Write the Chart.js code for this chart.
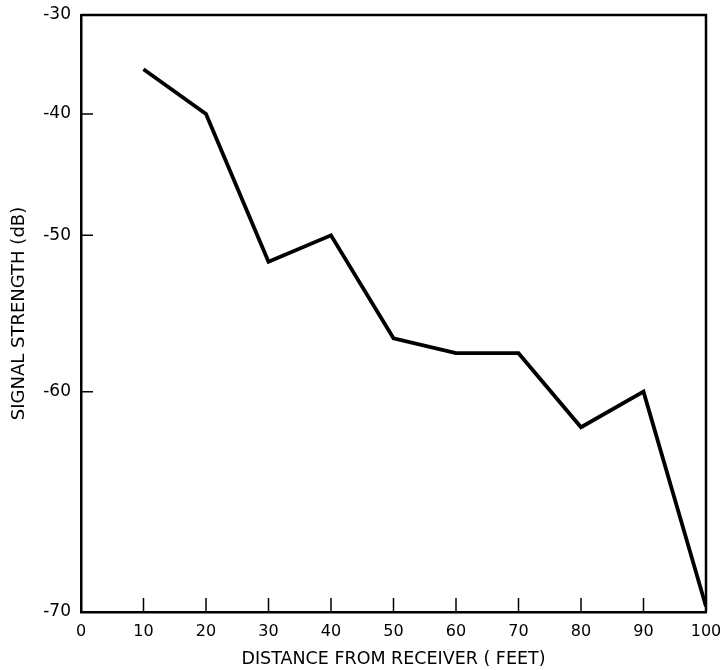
<!DOCTYPE html>
<html>
<head>
<meta charset="utf-8">
<script src="https://cdn.jsdelivr.net/npm/chart.js@4/dist/chart.umd.min.js"></script>
<style>
  html, body { margin: 0; padding: 0; background: #fff; }
  #wrap { width: 720px; height: 670px; }
</style>
</head>
<body>
<div id="wrap"><canvas id="c" width="720" height="670"></canvas></div>
<script>
// ---- data ----
const distances = [10, 20, 30, 40, 50, 60, 70, 80, 90, 100];
const signalDb = [-35.7, -40, -51.9, -50, -56.9, -57.8, -57.8, -61.9, -60, -69.8];
const xTickValues = [0, 10, 20, 30, 40, 50, 60, 70, 80, 90, 100];
const yTickValues = [-70, -60, -50, -40, -30];
const xTitle = 'DISTANCE FROM RECEIVER ( FEET)';
const yTitle = 'SIGNAL STRENGTH (dB)';

// Vertical axis of the original is spaced as log10(dB + 90)
const OFFSET = 90;
class OffsetLogScale extends Chart.LinearScale {
  getPixelForValue(value) {
    const a = Math.log10(this.min + OFFSET), b = Math.log10(this.max + OFFSET);
    return this.getPixelForDecimal((Math.log10(value + OFFSET) - a) / (b - a));
  }
  getValueForPixel(pixel) {
    const a = Math.log10(this.min + OFFSET), b = Math.log10(this.max + OFFSET);
    return Math.pow(10, a + this.getDecimalForPixel(pixel) * (b - a)) - OFFSET;
  }
}
OffsetLogScale.id = 'offsetLog';
Chart.register(OffsetLogScale);

const FONT = 'DejaVu Sans';

const framePlugin = {
  id: 'frame',
  afterDraw(chart) {
    const ctx = chart.ctx, a = chart.chartArea;
    const xs = chart.scales.x, ys = chart.scales.y;
    ctx.save();
    ctx.strokeStyle = '#000';
    ctx.lineWidth = 2.5;
    ctx.beginPath();
    ctx.moveTo(a.left, a.top); ctx.lineTo(a.right, a.top); ctx.lineTo(a.right, a.bottom);
    ctx.stroke();
    ctx.lineWidth = 1.5;
    ctx.beginPath();
    xTickValues.forEach(v => {
      if (v === xs.min || v === xs.max) return;
      const px = xs.getPixelForValue(v);
      ctx.moveTo(px, a.bottom); ctx.lineTo(px, a.bottom - 14);
    });
    yTickValues.forEach(v => {
      if (v === ys.min || v === ys.max) return;
      const py = ys.getPixelForValue(v);
      ctx.moveTo(a.left, py); ctx.lineTo(a.left + 12, py);
    });
    ctx.stroke();
    ctx.restore();
  }
};

new Chart(document.getElementById('c'), {
  type: 'line',
  data: {
    datasets: [{
      data: distances.map((d, i) => ({ x: d, y: signalDb[i] })),
      borderColor: '#000',
      borderWidth: 3.8,
      pointRadius: 0,
      tension: 0,
      fill: false,
      borderJoinStyle: 'miter'
    }]
  },
  options: {
    responsive: false,
    animation: false,
    devicePixelRatio: 1,
    layout: { padding: { left: 0, right: 14, top: 15, bottom: 0 } },
    plugins: { legend: { display: false }, tooltip: { enabled: false } },
    scales: {
      x: {
        type: 'linear',
        min: 0, max: 100,
        afterBuildTicks: s => { s.ticks = xTickValues.map(v => ({ value: v })); },
        afterFit: s => { s.height = 58; s.paddingLeft = 0; s.paddingRight = 0; },
        grid: { display: false, drawTicks: false },
        border: { display: true, color: '#000', width: 2.5 },
        ticks: { color: '#000', font: { family: FONT, size: 16 }, padding: 10, maxRotation: 0, autoSkip: false },
        title: { display: true, text: xTitle, color: '#000', font: { family: FONT, size: 17.5 }, padding: { top: 0, bottom: 0 } }
      },
      y: {
        type: 'offsetLog',
        min: -70, max: -30,
        afterBuildTicks: s => { s.ticks = yTickValues.map(v => ({ value: v })); },
        afterFit: s => { s.width = 81; s.paddingTop = 0; s.paddingBottom = 0; },
        grid: { display: false, drawTicks: false },
        border: { display: true, color: '#000', width: 2.5 },
        ticks: { color: '#000', font: { family: FONT, size: 17 }, padding: 10, autoSkip: false, callback: v => String(v) },
        title: { display: true, text: yTitle, color: '#000', font: { family: FONT, size: 18 }, padding: { top: 9, bottom: 0 } }
      }
    }
  },
  plugins: [framePlugin]
});
</script>
</body>
</html>
